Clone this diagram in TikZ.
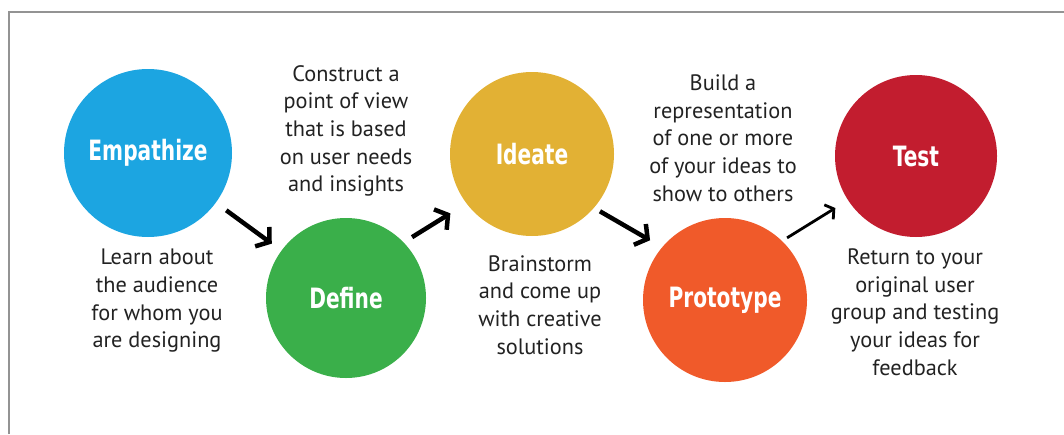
\documentclass[tikz,border=0pt]{standalone}
\usepackage{fontspec}
\setmainfont{PT Sans}
\newfontfamily\labelfont{DejaVu Sans Condensed Bold}
\usepackage{graphicx}
\usepackage{tikz}
\usetikzlibrary{arrows.meta}
\usepackage{xcolor}

\definecolor{empathizeblue}{RGB}{28,165,225}
\definecolor{definegreen}{RGB}{58,175,74}
\definecolor{ideategold}{RGB}{226,177,52}
\definecolor{prototypeorange}{RGB}{240,90,42}
\definecolor{testred}{RGB}{194,29,47}
\definecolor{notegray}{RGB}{34,34,34}

\newcommand{\phasename}[1]{\scalebox{0.8}[1]{#1}}

\begin{document}
\begin{tikzpicture}[x=1pt, y=-1pt,
    phase/.style={circle, fill=#1, inner sep=0pt, outer sep=0pt,
      text=white, font=\labelfont\fontsize{28}{28}\selectfont},
    note/.style={align=center, text=notegray,
      font=\fontsize{22.3}{27.7}\selectfont},
    flow/.style={line width=4.5pt, -{Straight Barb[length=9pt, width=24pt]}},
    thinflow/.style={line width=2.8pt, -{Straight Barb[length=6pt, width=17pt]}}]
    \useasboundingbox (0,0) rectangle (1064,434);
    % frame
    \draw[gray!85, line width=1.5pt] (9,434) -- (9,12) -- (1064,12);

    % the five phases
    \node[phase=empathizeblue, minimum size=168pt] (empathize) at (148,153) {\phasename{Empathize}};
    \node[phase=definegreen, minimum size=160pt] (define) at (346,298) {\phasename{Define}};
    \node[phase=ideategold, minimum size=164pt] (ideate) at (532,154) {\phasename{Ideate}};
    \node[phase=prototypeorange, minimum size=164pt] (prototype) at (725,300) {\phasename{Prototype}};
    \node[phase=testred, minimum size=162pt] (test) at (916,156) {\phasename{Test}};

    % descriptions
    \node[note] (empathize-text) at (157,301) {Learn about\\the audience\\for whom you\\are designing};
    \node[note] (define-text) at (346,131) {Construct a\\point of view\\that is based\\on user needs\\and insights};
    \node[note] (ideate-text) at (540,305) {Brainstorm\\and come up\\with creative\\solutions};
    \node[note] (prototype-text) at (723,138) {Build a\\representation\\of one or more\\of your ideas to\\show to others};
    \node[note] (test-text) at (915,312) {Return to your\\original user\\group and testing\\your ideas for\\feedback};

    % arrows
    \draw[flow, shorten <=13pt, shorten >=12pt] (empathize) -- (define);
    \draw[flow, shorten <=10pt, shorten >=19pt] (define.44) -- (ideate.217);
    \draw[flow, shorten <=7pt, shorten >=14pt] (ideate.-41) -- (prototype.140);
    \draw[thinflow, shorten <=6pt, shorten >=15pt] (prototype.46) -- (test.213);
\end{tikzpicture}
\end{document}
